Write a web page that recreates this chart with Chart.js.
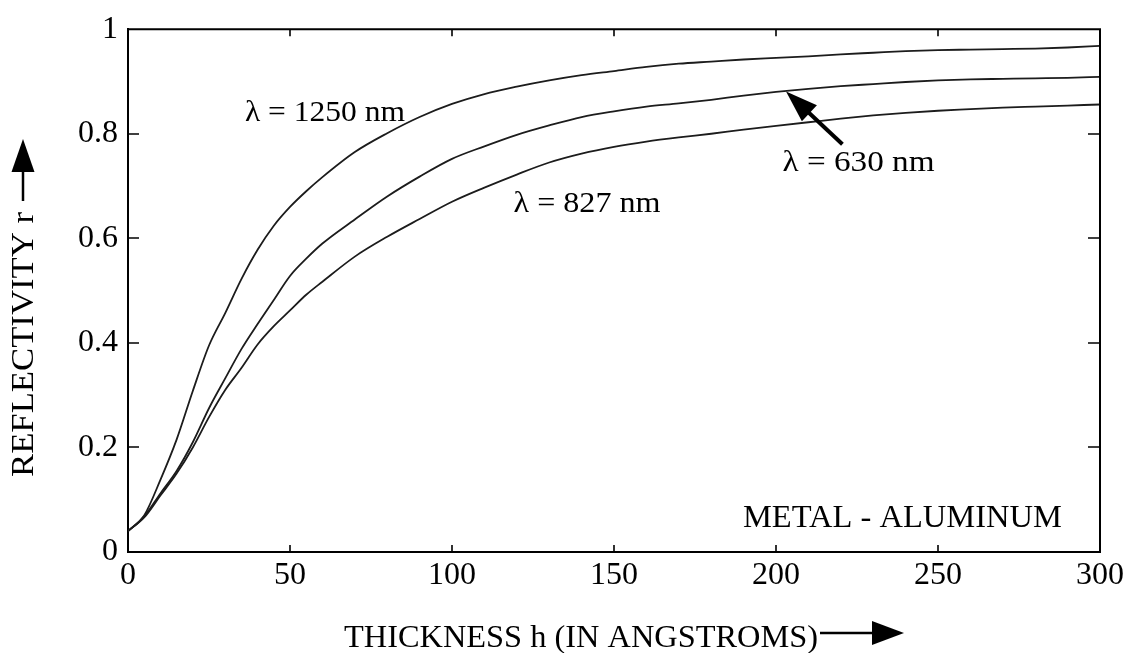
<!DOCTYPE html>
<html>
<head>
<meta charset="utf-8">
<script src="https://cdn.jsdelivr.net/npm/chart.js@4.4.1/dist/chart.umd.min.js"></script>
<style>
  html, body { margin: 0; padding: 0; background: #ffffff; }
  #wrap { width: 1133px; height: 653px; position: relative; }
</style>
</head>
<body>
<div id="wrap"><canvas id="c" width="1133" height="653"></canvas></div>
<script>
// ---- data ----
const thickness = [0, 5, 10, 15, 20, 25, 30, 35, 40, 45, 50, 55, 60, 70, 80, 90, 100, 110, 120, 130, 140, 150, 160, 170, 180, 190, 200, 210, 220, 230, 240, 250, 260, 270, 280, 290, 300];
const r1250 = [0.040, 0.070, 0.138, 0.215, 0.308, 0.395, 0.457, 0.522, 0.578, 0.624, 0.660, 0.690, 0.717, 0.765, 0.801, 0.832, 0.857, 0.876, 0.890, 0.902, 0.912, 0.920, 0.928, 0.934, 0.938, 0.942, 0.945, 0.948, 0.952, 0.955, 0.958, 0.960, 0.961, 0.962, 0.963, 0.965, 0.968];
const r630  = [0.040, 0.068, 0.112, 0.155, 0.210, 0.275, 0.332, 0.388, 0.436, 0.482, 0.528, 0.561, 0.590, 0.636, 0.680, 0.718, 0.752, 0.776, 0.798, 0.816, 0.832, 0.843, 0.852, 0.858, 0.865, 0.873, 0.880, 0.886, 0.891, 0.895, 0.899, 0.902, 0.904, 0.905, 0.906, 0.907, 0.909];
const r827  = [0.040, 0.066, 0.108, 0.150, 0.200, 0.258, 0.310, 0.352, 0.397, 0.432, 0.462, 0.492, 0.517, 0.565, 0.603, 0.637, 0.670, 0.697, 0.722, 0.745, 0.762, 0.775, 0.785, 0.793, 0.800, 0.808, 0.815, 0.822, 0.829, 0.835, 0.840, 0.844, 0.847, 0.850, 0.852, 0.854, 0.856];
const xTicksStep = 50;
const yTicksStep = 0.2;
const xTitle = "THICKNESS h (IN ANGSTROMS)";
const yTitle = "REFLECTIVITY r";
const seriesLabels = ["\u03BB = 1250 nm", "\u03BB = 630 nm", "\u03BB = 827 nm"];
const noteText = "METAL - ALUMINUM";
// annotation anchors in data units [h, r]
const labelAnchors = [[36.1, 0.8245], [202.0, 0.728], [119.0, 0.651]];
const noteAnchor = [189.8, 0.047];
const arrowTip = [203.1, 0.881];
const arrowTail = [220.5, 0.780];

const FONT = "'Liberation Serif', 'Times New Roman', serif";

function pts(ys) { return thickness.map((h, i) => ({ x: h, y: ys[i] })); }

function fitText(ctx, text, x, y, size, targetW) {
  ctx.save();
  ctx.font = size + "px " + FONT;
  ctx.textAlign = "left";
  ctx.textBaseline = "alphabetic";
  const w = ctx.measureText(text).width;
  ctx.translate(x, y);
  ctx.scale(targetW / w, 1);
  ctx.fillText(text, 0, 0);
  ctx.restore();
}

const decorPlugin = {
  id: 'decor',
  afterDraw(chart) {
    const ctx = chart.ctx;
    const a = chart.chartArea;
    const xs = chart.scales.x, ys = chart.scales.y;
    ctx.save();
    ctx.strokeStyle = "#000";
    ctx.fillStyle = "#000";
    // top and right frame
    ctx.lineWidth = 2;
    ctx.beginPath();
    ctx.moveTo(a.left, a.top); ctx.lineTo(a.right, a.top); ctx.lineTo(a.right, a.bottom);
    ctx.stroke();
    // inward ticks
    ctx.lineWidth = 1.6;
    xs.ticks.forEach(t => {
      if (t.value <= xs.min || t.value >= xs.max) return;
      const px = Math.round(xs.getPixelForValue(t.value));
      ctx.beginPath();
      ctx.moveTo(px, a.bottom); ctx.lineTo(px, a.bottom - 7);
      ctx.moveTo(px, a.top); ctx.lineTo(px, a.top + 7);
      ctx.stroke();
    });
    ys.ticks.forEach(t => {
      if (t.value <= ys.min || t.value >= ys.max) return;
      const py = Math.round(ys.getPixelForValue(t.value));
      ctx.beginPath();
      ctx.moveTo(a.left, py); ctx.lineTo(a.left + 11, py);
      ctx.moveTo(a.right, py); ctx.lineTo(a.right - 12, py);
      ctx.stroke();
    });

    // x title + arrow
    fitText(ctx, xTitle, 344, 647, 32, 474);
    ctx.lineWidth = 2.5;
    ctx.beginPath(); ctx.moveTo(820, 633); ctx.lineTo(875, 633); ctx.stroke();
    ctx.beginPath(); ctx.moveTo(904, 633); ctx.lineTo(872, 621); ctx.lineTo(872, 645); ctx.closePath(); ctx.fill();

    // y title + arrow
    ctx.save();
    ctx.translate(33, 477);
    ctx.rotate(-Math.PI / 2);
    fitText(ctx, yTitle, 0, 0, 31, 265);
    ctx.restore();
    ctx.lineWidth = 2.5;
    ctx.beginPath(); ctx.moveTo(23, 201); ctx.lineTo(23, 168); ctx.stroke();
    ctx.beginPath(); ctx.moveTo(23, 139); ctx.lineTo(11.5, 172); ctx.lineTo(34.5, 172); ctx.closePath(); ctx.fill();

    // series labels
    const widths = [160, 152, 147];
    seriesLabels.forEach((s, i) => {
      const px = xs.getPixelForValue(labelAnchors[i][0]);
      const py = ys.getPixelForValue(labelAnchors[i][1]);
      fitText(ctx, s, px, py, 30, widths[i]);
    });
    // note
    fitText(ctx, noteText, xs.getPixelForValue(noteAnchor[0]), ys.getPixelForValue(noteAnchor[1]), 32, 319);

    // pointer arrow
    const tx = xs.getPixelForValue(arrowTip[0]), ty = ys.getPixelForValue(arrowTip[1]);
    const sx = xs.getPixelForValue(arrowTail[0]), sy = ys.getPixelForValue(arrowTail[1]);
    const ang = Math.atan2(ty - sy, tx - sx);
    const headLen = 32, headHalf = 11;
    const bx = tx - headLen * Math.cos(ang), by = ty - headLen * Math.sin(ang);
    ctx.lineWidth = 4;
    ctx.beginPath(); ctx.moveTo(sx, sy); ctx.lineTo(bx + 4 * Math.cos(ang), by + 4 * Math.sin(ang)); ctx.stroke();
    ctx.beginPath();
    ctx.moveTo(tx, ty);
    ctx.lineTo(bx + headHalf * Math.sin(ang), by - headHalf * Math.cos(ang));
    ctx.lineTo(bx - headHalf * Math.sin(ang), by + headHalf * Math.cos(ang));
    ctx.closePath(); ctx.fill();
    ctx.restore();
  }
};

const lineStyle = { borderColor: "#1c1c1c", borderWidth: 1.8, pointRadius: 0, cubicInterpolationMode: 'monotone', fill: false };

new Chart(document.getElementById('c'), {
  type: 'line',
  data: {
    datasets: [
      Object.assign({ label: seriesLabels[0], data: pts(r1250) }, lineStyle),
      Object.assign({ label: seriesLabels[1], data: pts(r630) }, lineStyle),
      Object.assign({ label: seriesLabels[2], data: pts(r827) }, lineStyle)
    ]
  },
  options: {
    responsive: false,
    animation: false,
    events: [],
    layout: { padding: { left: 0, right: 33, top: 22, bottom: 0 } },
    plugins: { legend: { display: false }, tooltip: { enabled: false } },
    scales: {
      x: {
        type: 'linear', min: 0, max: 300,
        afterFit(scale) { scale.height = 101; },
        ticks: { stepSize: xTicksStep, color: "#000", font: { family: FONT, size: 32 }, padding: 4, maxRotation: 0 },
        grid: { display: false, drawTicks: false },
        border: { display: true, color: "#000", width: 2 }
      },
      y: {
        type: 'linear', min: 0, max: 1,
        afterFit(scale) { scale.width = 128; },
        ticks: {
          stepSize: yTicksStep, color: "#000", font: { family: FONT, size: 32 }, padding: 10,
          callback: (v) => String(Number(Number(v).toFixed(1)))
        },
        grid: { display: false, drawTicks: false },
        border: { display: true, color: "#000", width: 2 }
      }
    }
  },
  plugins: [decorPlugin]
});
</script>
</body>
</html>
